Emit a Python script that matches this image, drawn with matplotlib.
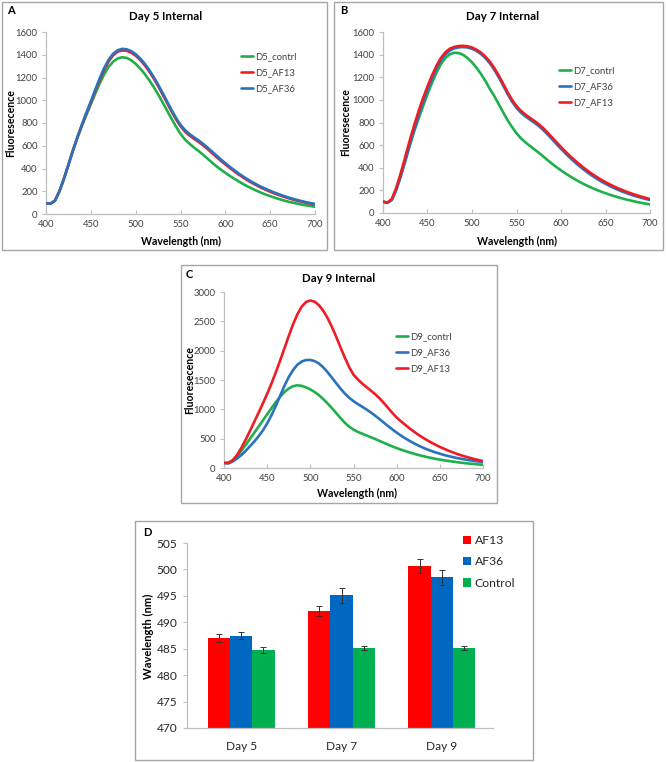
import matplotlib
matplotlib.use("Agg")
import matplotlib.pyplot as plt
from matplotlib.patches import Rectangle
import numpy as np

plt.rcParams['font.family'] = ['Lato', 'DejaVu Sans']

# wavelength grid (nm), 5 nm steps from 400 to 700
wl = list(range(400, 701, 5))

# Day 5 spectra (rows of 10 = 50 nm each)
d5_contrl = [95, 90, 118, 200, 310, 430, 555, 670, 775, 870,
             965, 1060, 1150, 1230, 1295, 1340, 1368, 1378, 1372, 1352,
             1320, 1280, 1232, 1178, 1118, 1052, 982, 910, 838, 768,
             705, 655, 618, 585, 555, 522, 488, 453, 420, 390,
             362, 335, 310, 286, 263, 242, 222, 204, 187, 171,
             157, 144, 131, 120, 109, 100, 91, 83, 76, 70,
             64]
d5_af13 = [95, 90, 118, 200, 310, 432, 558, 672, 780, 883,
           980, 1083, 1180, 1270, 1343, 1396, 1428, 1438, 1435, 1419,
           1392, 1355, 1309, 1255, 1193, 1125, 1052, 977, 902, 832,
           772, 725, 690, 662, 635, 605, 572, 537, 502, 468,
           436, 405, 375, 347, 320, 295, 272, 251, 231, 213,
           196, 180, 166, 152, 140, 128, 117, 108, 99, 91,
           84]
d5_af36 = [95, 90, 118, 200, 310, 435, 560, 675, 785, 890,
           990, 1095, 1195, 1285, 1358, 1410, 1440, 1452, 1448, 1432,
           1405, 1368, 1322, 1268, 1206, 1138, 1065, 990, 915, 845,
           785, 738, 703, 675, 648, 618, 585, 550, 515, 480,
           447, 415, 385, 356, 329, 304, 281, 259, 239, 221,
           204, 188, 173, 159, 146, 134, 123, 113, 104, 96,
           88]

# Day 7 spectra
d7_contrl = [100, 92, 120, 210, 330, 460, 595, 720, 835, 945,
             1050, 1150, 1240, 1315, 1370, 1403, 1416, 1414, 1398, 1370,
             1332, 1285, 1230, 1168, 1098, 1035, 962, 890, 820, 760,
             705, 660, 625, 593, 563, 533, 500, 467, 435, 405,
             377, 350, 325, 301, 279, 258, 239, 221, 204, 189,
             175, 161, 149, 137, 126, 116, 107, 98, 90, 83,
             76]
d7_af36 = [100, 90, 115, 205, 325, 460, 600, 735, 860, 978,
           1088, 1188, 1277, 1350, 1402, 1436, 1455, 1464, 1467, 1463,
           1452, 1433, 1406, 1370, 1324, 1267, 1200, 1127, 1052, 984,
           929, 887, 854, 826, 799, 769, 734, 694, 652, 609,
           567, 527, 489, 453, 419, 387, 357, 329, 304, 280,
           258, 238, 219, 202, 186, 172, 158, 146, 135, 124,
           115]
d7_af13 = [100, 92, 125, 225, 355, 495, 640, 775, 900, 1015,
           1120, 1215, 1300, 1370, 1420, 1452, 1468, 1476, 1478, 1474,
           1463, 1444, 1418, 1383, 1338, 1282, 1216, 1143, 1068, 1000,
           945, 903, 870, 842, 815, 785, 750, 710, 668, 625,
           583, 543, 505, 469, 435, 403, 373, 345, 319, 295,
           273, 252, 233, 215, 199, 184, 170, 157, 145, 134,
           124]

# Day 9 spectra
d9_contrl = [85, 90, 130, 200, 290, 390, 495, 600, 705, 810,
             915, 1020, 1120, 1215, 1295, 1355, 1395, 1410, 1400, 1375,
             1340, 1295, 1240, 1175, 1100, 1020, 935, 850, 770, 705,
             655, 615, 585, 555, 525, 495, 462, 430, 398, 368,
             340, 313, 288, 265, 243, 223, 204, 187, 171, 156,
             143, 131, 120, 109, 99, 90, 82, 74, 67, 60,
             54]
d9_af36 = [85, 78, 110, 160, 220, 290, 370, 450, 540, 640,
           760, 900, 1060, 1230, 1400, 1550, 1670, 1760, 1815, 1840,
           1842, 1822, 1780, 1715, 1632, 1540, 1445, 1352, 1268, 1197,
           1140, 1090, 1045, 998, 948, 893, 835, 775, 715, 658,
           603, 552, 505, 461, 421, 384, 350, 319, 291, 266,
           243, 222, 203, 186, 170, 156, 143, 131, 120, 110,
           101]
d9_af13 = [85, 88, 130, 220, 340, 480, 630, 785, 940, 1100,
           1265, 1440, 1630, 1830, 2040, 2250, 2450, 2620, 2750, 2830,
           2855, 2835, 2775, 2680, 2555, 2405, 2235, 2055, 1880, 1720,
           1590, 1510, 1440, 1380, 1320, 1260, 1190, 1110, 1025, 940,
           860, 795, 735, 675, 620, 568, 520, 476, 435, 396,
           360, 327, 295, 267, 240, 215, 193, 172, 152, 135,
           118]

# Peak wavelength bars
days = ["Day 5", "Day 7", "Day 9"]
af13_peak = [487.0, 492.1, 500.6]
af13_err = [0.75, 1.0, 1.3]
af36_peak = [487.5, 495.1, 498.5]
af36_err = [0.6, 1.4, 1.4]
ctrl_peak = [484.7, 485.2, 485.2]
ctrl_err = [0.55, 0.35, 0.4]

GREEN = '#1faf4b'
RED = '#ee1c24'
BLUE = '#2a72bb'
BAR_RED = '#ff0000'
BAR_BLUE = '#0068c0'
BAR_GREEN = '#00b050'
AXIS_GRAY = '#bfbfbf'
TICK_COLOR = '#404040'

W, H = 666, 762
fig = plt.figure(figsize=(W / 100, H / 100), dpi=100)


def px_rect(x0, y0, x1, y1):
    return [x0 / W, 1 - y1 / H, (x1 - x0) / W, (y1 - y0) / H]


def px_pt(x, y):
    return x / W, 1 - y / H


def panel_box(x0, y0, x1, y1):
    r = Rectangle((x0 / W, 1 - y1 / H), (x1 - x0) / W, (y1 - y0) / H,
                  transform=fig.transFigure, fill=False, edgecolor='#a6a6a6', lw=1.0)
    fig.patches.append(r)


def style_axes(ax, fs):
    for s in ['top', 'right']:
        ax.spines[s].set_visible(False)
    for s in ['left', 'bottom']:
        ax.spines[s].set_color(AXIS_GRAY)
        ax.spines[s].set_linewidth(0.9)
    ax.tick_params(axis='x', direction='in', length=3, color=AXIS_GRAY, labelsize=fs,
                   labelcolor=TICK_COLOR, pad=4)
    ax.tick_params(axis='y', direction='out', length=3, color=AXIS_GRAY, labelsize=fs,
                   labelcolor=TICK_COLOR, pad=3)


def spectrum_panel(rect, series, ylim, yticks, title, title_xy, letter_xy, letter,
                   ylab_xy, xlab_xy, legend_xy):
    ax = fig.add_axes(px_rect(*rect))
    lines = []
    for vals, color, label, z in series:
        ln, = ax.plot(wl, vals, color=color, lw=1.9, label=label, zorder=z,
                      solid_capstyle='round', solid_joinstyle='round')
        lines.append(ln)
    ax.set_xlim(400, 700)
    ax.set_ylim(*ylim)
    ax.set_xticks(range(400, 701, 50))
    ax.set_yticks(yticks)
    style_axes(ax, 6.8)
    fig.text(*px_pt(*title_xy), title, ha='center', va='center', fontsize=8.3, fontweight='bold')
    fig.text(*px_pt(*letter_xy), letter, ha='left', va='center', fontsize=8, fontweight='bold')
    fig.text(*px_pt(*ylab_xy), "Fluoresecence", ha='center', va='center', rotation=90,
             fontsize=7.6, fontweight='bold')
    fig.text(*px_pt(*xlab_xy), "Wavelength (nm)", ha='center', va='center',
             fontsize=7.6, fontweight='bold')
    leg = ax.legend(handles=lines, loc='upper left', bbox_to_anchor=px_pt(*legend_xy),
                    bbox_transform=fig.transFigure, frameon=False, fontsize=6.8,
                    handlelength=1.3, handletextpad=0.15, labelspacing=0.75,
                    borderpad=0, borderaxespad=0)
    for t in leg.get_texts():
        t.set_color(TICK_COLOR)
    return ax


panel_box(2, 2, 327, 250)
spectrum_panel((46, 32, 315, 214),
               [(d5_contrl, GREEN, "D5_contrl", 2), (d5_af13, RED, "D5_AF13", 3),
                (d5_af36, BLUE, "D5_AF36", 4)],
               (0, 1600), range(0, 1601, 200), "Day 5 Internal", (166, 16), (7, 10), "A",
               (11, 123), (181, 241), (241, 52))

panel_box(334, 2, 663, 250)
spectrum_panel((383, 32, 650, 213),
               [(d7_contrl, GREEN, "D7_contrl", 2), (d7_af36, BLUE, "D7_AF36", 3),
                (d7_af13, RED, "D7_AF13", 4)],
               (0, 1600), range(0, 1601, 200), "Day 7 Internal", (503, 17), (340, 10), "B",
               (346, 122), (517, 241), (559, 66))

panel_box(181, 265, 497, 503)
spectrum_panel((224, 292, 483, 468),
               [(d9_contrl, GREEN, "D9_contrl", 2), (d9_af36, BLUE, "D9_AF36", 3),
                (d9_af13, RED, "D9_AF13", 4)],
               (0, 3000), range(0, 3001, 500), "Day 9 Internal", (339, 278), (186, 275), "C",
               (190, 380), (357, 493), (396, 332))

# Panel D: peak wavelength bar chart
panel_box(135, 521, 533, 760)
axd = fig.add_axes(px_rect(187, 543, 493, 728))
x = np.arange(len(days))
bw = 0.222
ekw = dict(ecolor='#333333', elinewidth=0.7, capsize=2.2, capthick=0.7)
axd.bar(x - bw, np.array(af13_peak) - 470, bw, bottom=470, color=BAR_RED,
        yerr=af13_err, error_kw=ekw, label="AF13")
axd.bar(x, np.array(af36_peak) - 470, bw, bottom=470, color=BAR_BLUE,
        yerr=af36_err, error_kw=ekw, label="AF36")
axd.bar(x + bw, np.array(ctrl_peak) - 470, bw, bottom=470, color=BAR_GREEN,
        yerr=ctrl_err, error_kw=ekw, label="Control")
axd.set_xlim(-0.54, 2.51)
axd.set_ylim(470, 505)
axd.set_yticks(range(470, 506, 5))
axd.set_xticks(x)
axd.set_xticklabels(days)
style_axes(axd, 8.6)
axd.tick_params(axis='x', length=0, pad=9, labelcolor='#262626')
axd.tick_params(axis='y', pad=4, labelcolor='#262626')
fig.text(*px_pt(143, 532), "D", ha='left', va='center', fontsize=8, fontweight='bold')
fig.text(*px_pt(148, 636), "Wavelength (nm)", ha='center', va='center', rotation=90,
         fontsize=8, fontweight='bold')
legd = axd.legend(loc='upper left', bbox_to_anchor=px_pt(463, 535), bbox_transform=fig.transFigure,
                  frameon=False, fontsize=8.8, handlelength=0.65, handleheight=0.65,
                  handletextpad=0.3, labelspacing=0.85, borderpad=0, borderaxespad=0)
for t in legd.get_texts():
    t.set_color('#262626')

fig.savefig("out.png", dpi=100)
